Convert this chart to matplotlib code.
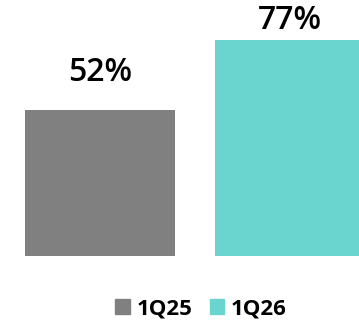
import matplotlib
matplotlib.use('Agg')
import matplotlib.pyplot as plt
from matplotlib.patches import Patch

# data
categories = ['1Q25', '1Q26']
values = [52, 77]
labels = ['52%', '77%']
colors = ['#808080', '#6AD5CF']
label_offsets = [15, 2]  # points above the bar top

plt.rcParams['font.family'] = ['Open Sans', 'DejaVu Sans']

fig = plt.figure(figsize=(3.59, 3.22), dpi=100, facecolor='white')
ax = fig.add_axes([0, 0, 1, 1])
x = range(len(categories))
ax.bar(x, values, width=0.79, color=colors)

for xi, v, lab, off in zip(x, values, labels, label_offsets):
    ax.annotate(lab, (xi, v), xytext=(0, off), textcoords='offset points',
                ha='center', va='bottom', fontsize=23, fontweight='semibold')

ax.set_xlim(-0.526, 1.363)
ax.set_ylim(-23.5, 91.1)
ax.axis('off')

handles = [Patch(color=c, label=l) for c, l in zip(colors, categories)]
fig.legend(handles=handles, loc='center', bbox_to_anchor=(0.56, 0.04), ncol=2,
           frameon=False, handlelength=0.65, handleheight=0.65, handletextpad=0.3,
           columnspacing=0.8, prop={'size': 16, 'weight': 'bold'})

plt.savefig('out.png', dpi=100, facecolor='white')
